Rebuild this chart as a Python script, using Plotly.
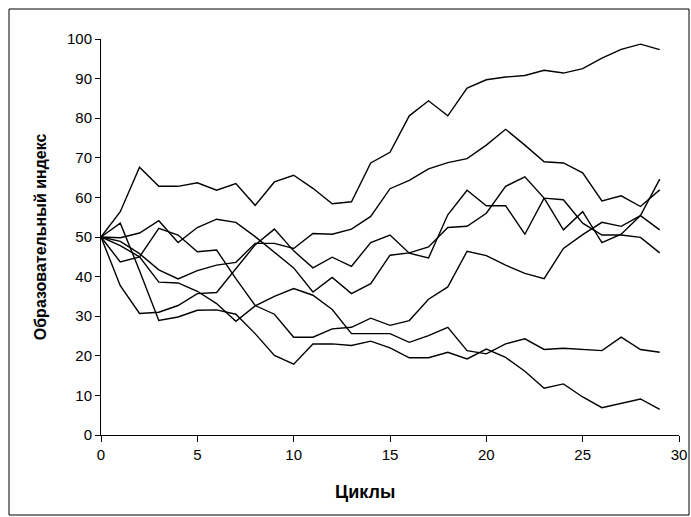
import plotly.graph_objects as go

cycles = list(range(30))

line_a = [50, 56.4, 67.6, 62.8, 62.8, 63.7, 61.8, 63.5, 58.0, 63.9, 65.6, 62.3, 58.4, 58.9, 68.7,
          71.4, 80.6, 84.4, 80.6, 87.6, 89.7, 90.4, 90.8, 92.1, 91.4, 92.5, 95.2, 97.4, 98.7, 97.3]
line_b = [50, 48.9, 45.8, 41.7, 39.4, 41.5, 42.9, 43.6, 48.4, 48.4, 47.1, 50.9, 50.7, 52.0, 55.2,
          62.2, 64.3, 67.2, 68.8, 69.8, 73.2, 77.2, 73.2, 69.0, 68.7, 66.2, 59.1, 60.4, 57.7, 61.9]
line_c = [50, 49.8, 51.0, 54.1, 48.6, 52.4, 54.5, 53.7, 50.1, 46.1, 42.2, 36.1, 39.8, 35.7, 38.2,
          45.4, 46.0, 47.5, 52.4, 52.7, 56.0, 62.8, 65.2, 59.8, 59.4, 53.5, 50.5, 50.5, 49.9, 46.0]
line_d = [50, 37.7, 30.7, 31.0, 32.7, 35.7, 36.0, 42.0, 48.0, 52.0, 46.5, 42.2, 44.9, 42.6, 48.6,
          50.5, 45.9, 44.7, 55.6, 61.8, 57.9, 57.9, 50.7, 59.8, 51.8, 56.4, 48.6, 50.7, 55.4, 64.6]
line_e = [50, 43.7, 45.0, 52.2, 50.5, 46.3, 46.7, 39.5, 32.7, 30.5, 24.7, 24.7, 26.8, 27.2, 29.5,
          27.7, 28.9, 34.3, 37.4, 46.4, 45.3, 42.9, 40.8, 39.5, 47.1, 50.6, 53.7, 52.7, 55.4, 51.8]
line_f = [50, 47.8, 45.0, 38.6, 38.4, 36.3, 33.2, 28.7, 32.6, 35.0, 37.0, 35.3, 31.7, 25.6, 25.6,
          25.6, 23.4, 25.1, 27.2, 21.3, 20.5, 23.0, 24.3, 21.6, 21.9, 21.6, 21.3, 24.7, 21.6, 20.9]
line_g = [50, 53.5, 41.5, 28.9, 29.8, 31.5, 31.6, 30.5, 25.6, 20.1, 17.9, 23.0, 23.0, 22.6, 23.7,
          22.0, 19.5, 19.5, 20.9, 19.2, 21.7, 19.6, 16.1, 11.8, 12.9, 9.6, 6.9, 8.0, 9.1, 6.5]

series = [line_a, line_b, line_c, line_d, line_e, line_f, line_g]

x_ticks = [0, 5, 10, 15, 20, 25, 30]
y_ticks = [0, 10, 20, 30, 40, 50, 60, 70, 80, 90, 100]

x_title = "Циклы"
y_title = "Образовательный индекс"

fig = go.Figure()
for s in series:
    fig.add_trace(go.Scatter(x=cycles, y=s, mode="lines",
                             line=dict(color="black", width=1.4),
                             showlegend=False, hoverinfo="skip"))

font_family = "Liberation Sans, Arial, sans-serif"

fig.update_layout(
    template="none",
    width=691, height=517,
    margin=dict(l=9, r=2, t=9, b=2, autoexpand=False),
    paper_bgcolor="white", plot_bgcolor="white",
    font=dict(family=font_family, color="black", size=15),
    hovermode=False,
    xaxis=dict(domain=[0.1353, 0.9853], range=[0, 30], tickvals=x_ticks,
               automargin=False, showgrid=False, zeroline=False,
               showline=True, linecolor="black", linewidth=1,
               ticks="outside", ticklen=6, tickcolor="black",
               tickfont=dict(size=15)),
    yaxis=dict(domain=[0.1581, 0.9407], range=[0, 100], tickvals=y_ticks,
               automargin=False, showgrid=False, zeroline=False,
               showline=True, linecolor="black", linewidth=1,
               ticks="outside", ticklen=5, tickcolor="black",
               tickfont=dict(size=15)),
    shapes=[dict(type="rect", xref="paper", yref="paper",
                 x0=0, x1=1, y0=0, y1=1,
                 line=dict(color="black", width=1))],
    annotations=[
        dict(text=f"<b>{x_title}</b>", xref="paper", yref="paper",
             x=0.523, y=0.0445, showarrow=False, font=dict(size=18),
             xanchor="center", yanchor="middle"),
        dict(text=f"<b>{y_title}</b>", xref="paper", yref="paper",
             x=0.0456, y=0.549, showarrow=False, font=dict(size=16),
             textangle=-90, xanchor="center", yanchor="middle"),
    ],
)

fig.write_html("out.html", config={"displayModeBar": False, "staticPlot": True},
               post_script="document.body.style.margin='0';document.body.style.padding='0';")
